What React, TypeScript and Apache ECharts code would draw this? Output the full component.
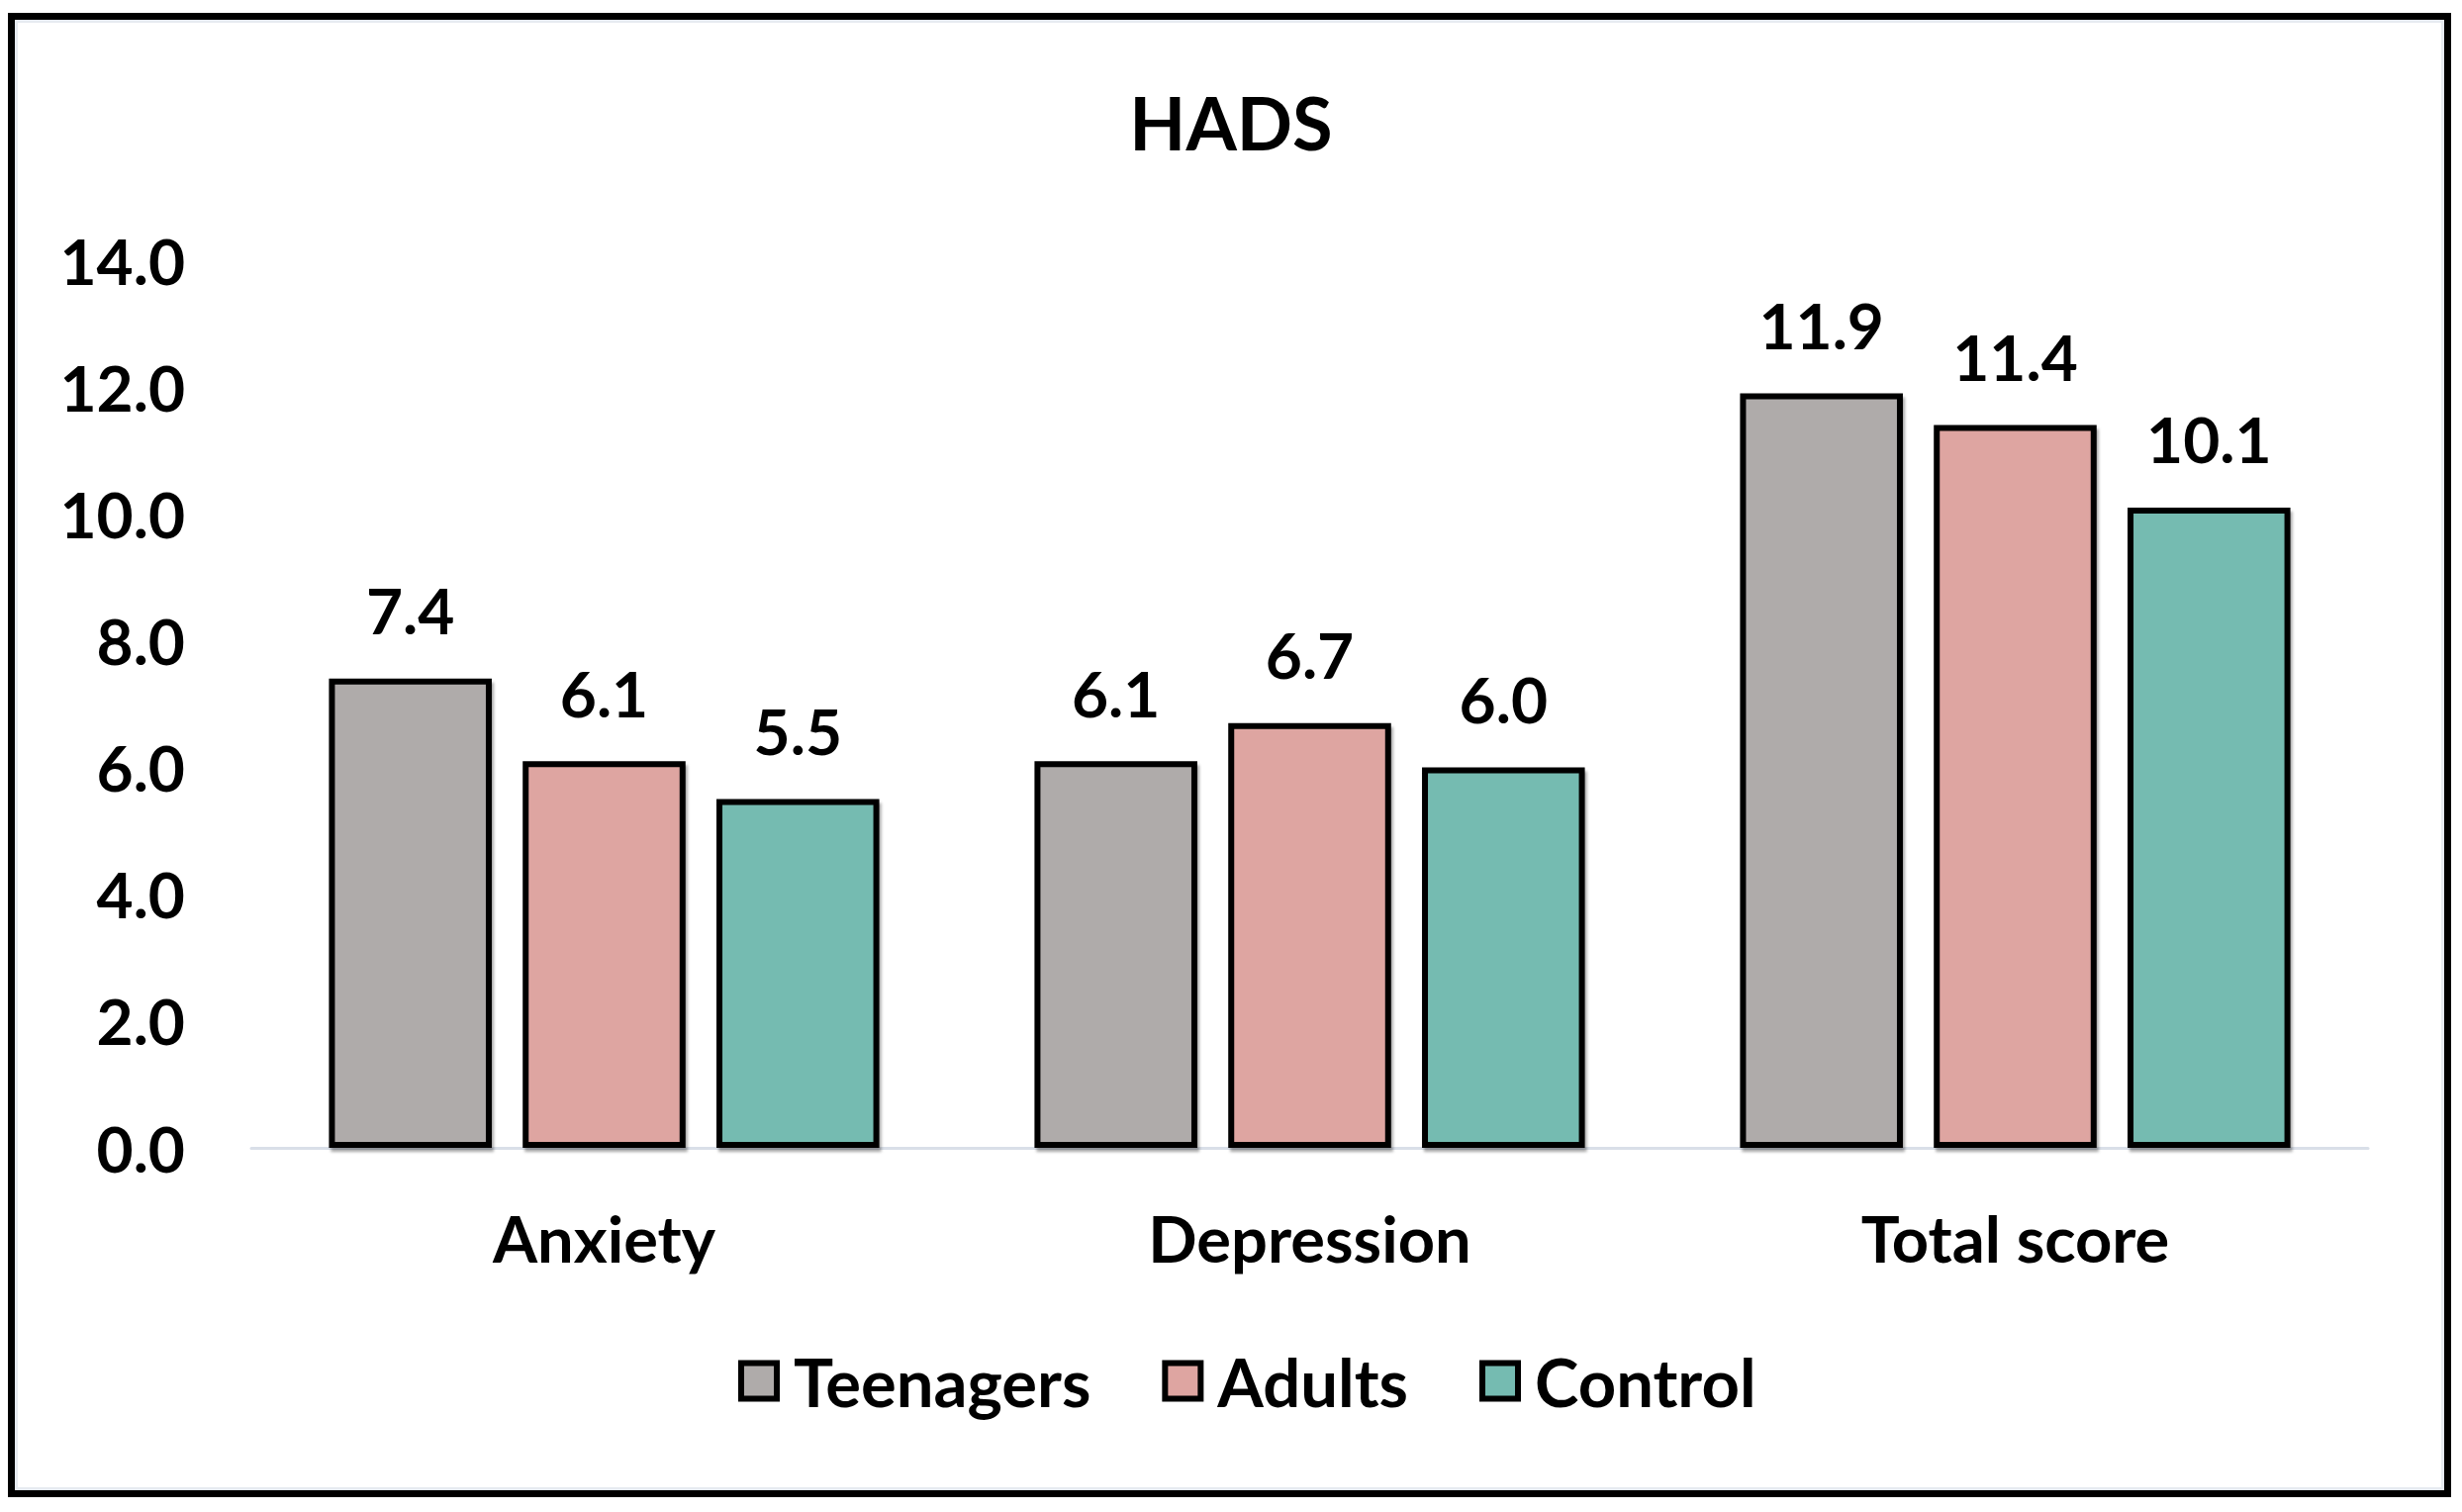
import React, { useEffect, useRef } from "react";
import * as echarts from "echarts";

const categories = ["Anxiety", "Depression", "Total score"];
const seriesNames = ["Teenagers", "Adults", "Control"];
const teenagers = [7.4, 6.1, 11.9];
const adults = [6.1, 6.7, 11.4];
const control = [5.5, 6.0, 10.1];
const colors = ["#AFABAA", "#DEA5A1", "#75BBB1"];
const yTicks = { min: 0, max: 14, interval: 2 };

const FONT = "Lato, 'Open Sans', sans-serif";

export default function App() {
  const ref = useRef<HTMLDivElement>(null);
  useEffect(() => {
    if (!ref.current) return;
    const chart = echarts.init(ref.current, undefined, { renderer: "svg" });
    const values = [teenagers, adults, control];
    chart.setOption({
      animation: false,
      backgroundColor: "#ffffff",
      title: {
        text: "HADS",
        left: "center",
        top: 81,
        textStyle: { fontFamily: FONT, fontWeight: "bold", fontSize: 74, color: "#000" },
      },
      grid: { left: 254, right: 95, top: 263, bottom: 368, containLabel: false },
      legend: {
        bottom: 94,
        left: 741,
        itemWidth: 36,
        itemHeight: 36,
        itemGap: 72,
        icon: "rect",
        textStyle: { fontFamily: FONT, fontWeight: "bold", fontSize: 67, color: "#000", padding: [0, 0, 0, 12] },
        itemStyle: { borderColor: "#000", borderWidth: 6 },
        data: seriesNames,
      },
      xAxis: {
        type: "category",
        data: categories,
        axisLine: { show: true, lineStyle: { color: "#D9DFE8", width: 3 } },
        axisTick: { show: false },
        axisLabel: { fontFamily: FONT, fontWeight: "bold", fontSize: 65, color: "#000", margin: 58 },
      },
      yAxis: {
        type: "value",
        min: yTicks.min,
        max: yTicks.max,
        interval: yTicks.interval,
        splitLine: { show: false },
        axisLine: { show: false },
        axisTick: { show: false },
        axisLabel: {
          fontFamily: FONT,
          fontWeight: "bold",
          fontSize: 64,
          color: "#000",
          margin: 67,
          formatter: (v: number) => v.toFixed(1),
        },
      },
      series: seriesNames.map((name, i) => ({
        name,
        type: "bar",
        data: values[i],
        barGap: "19%",
        barCategoryGap: "22%",
        itemStyle: {
          color: colors[i],
          borderColor: "#000",
          borderWidth: 6,
          shadowColor: "rgba(0,0,0,0.35)",
          shadowBlur: 3,
          shadowOffsetX: 2,
          shadowOffsetY: 4,
        },
        label: {
          show: true,
          position: "top",
          distance: 37,
          fontFamily: FONT,
          fontWeight: "bold",
          fontSize: 64,
          color: "#000",
          formatter: (p: any) => Number(p.value).toFixed(1),
        },
      })),
      graphic: [
        {
          type: "rect",
          shape: { x: 16.5, y: 21.5, width: 2452, height: 1483 },
          style: { fill: "none", stroke: "#E6EAF0", lineWidth: 3 },
          silent: true,
        },
        {
          type: "rect",
          shape: { x: 11.5, y: 16.5, width: 2462, height: 1493 },
          style: { fill: "none", stroke: "#000", lineWidth: 7 },
          silent: true,
        },
      ],
    });
    return () => chart.dispose();
  }, []);
  return (
    <div
      ref={ref}
      style={{ position: "fixed", left: 0, top: 0, width: "2488px", height: "1528px" }}
    />
  );
}
